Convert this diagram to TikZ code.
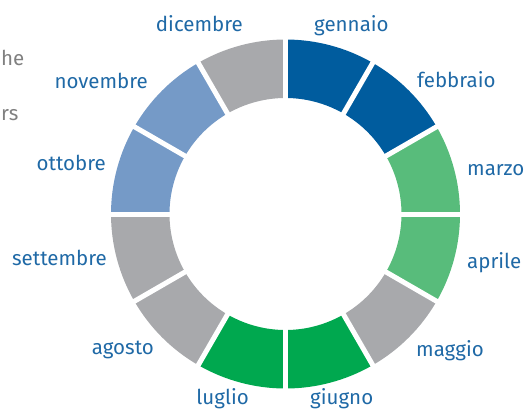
\documentclass[tikz,border=0pt]{standalone}
\usepackage{fontspec}
\setmainfont{Fira Sans}
\usetikzlibrary{positioning}

\definecolor{darkblue}{HTML}{005C9E}
\definecolor{lightblue}{HTML}{759AC7}
\definecolor{lightgreen}{HTML}{58BC7B}
\definecolor{midgreen}{HTML}{00A84F}
\definecolor{greyseg}{HTML}{A8A9AC}
\definecolor{monthtext}{HTML}{1F69A6}
\definecolor{sidetext}{HTML}{808080}

\tikzset{
	month/.style={text=monthtext, font=\fontsize{20.5}{22}\selectfont, inner sep=0pt},
	cut/.style={text=sidetext, font=\fontsize{20.5}{22}\selectfont, inner sep=0pt},
	gap/.style={draw=white, line width=5pt}
}

\begin{document}
\begin{tikzpicture}[x=1pt,y=1pt]
		\useasboundingbox (0,0) rectangle (524,408);
		\coordinate (c) at (285.5,194);
		% ring, one piece per month
		\foreach \a/\col in {60/darkblue,30/darkblue,0/lightgreen,-30/lightgreen,
			-60/greyseg,-90/midgreen,-120/midgreen,-150/greyseg,-180/greyseg,
			150/lightblue,120/lightblue,90/greyseg}{
			\fill[\col] ([shift={(\a:174.5)}]c) arc[start angle=\a, end angle=\a+30, radius=174.5]
				-- ([shift={(\a+30:116)}]c) arc[start angle=\a+30, end angle=\a, radius=116] -- cycle;
		}
		\foreach \a in {0,30,...,330}{
			\draw[gap] (c) -- ([shift={(\a:180)}]c);
		}
		\node[month,anchor=base west](gennaio) at (314,376){gennaio};
		\node[month,anchor=base west](febbraio) at (417,321){febbraio};
		\node[month,anchor=base west](marzo) at (467,233){marzo};
		\node[month,anchor=base west](aprile) at (467,140){aprile};
		\node[month,anchor=base west](maggio) at (416,52){maggio};
		\node[month,anchor=base west](giugno) at (310,4){giugno};
		\node[month,anchor=base east](luglio) at (249,4){luglio};
		\node[month,anchor=base east](agosto) at (154,54){agosto};
		\node[month,anchor=base east](settembre) at (107,143){settembre};
		\node[month,anchor=base east](ottobre) at (106,238){ottobre};
		\node[month,anchor=base east](novembre) at (148,320){novembre};
		\node[month,anchor=base east](dicembre) at (243,376){dicembre};
		\node[cut,anchor=base west](he) at (1,343){he};
		\node[cut,anchor=base west](rs) at (1,288){rs};
	\end{tikzpicture}
\end{document}
